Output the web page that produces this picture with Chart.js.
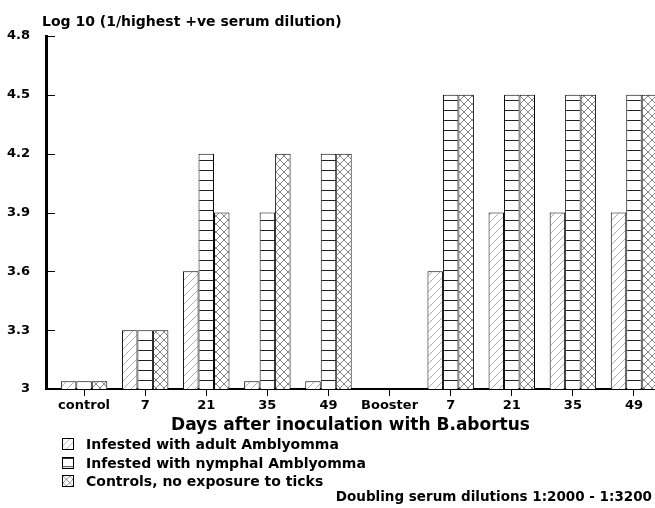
<!DOCTYPE html>
<html>
<head>
<meta charset="utf-8">
<script src="https://cdn.jsdelivr.net/npm/chart.js@4.4.1/dist/chart.umd.min.js"></script>
<style>
  html, body { margin: 0; padding: 0; background: #fff; overflow: hidden; }
  #wrap { position: relative; width: 655px; height: 508px; }
  #legend { position: absolute; left: 62px; top: 435px; font: bold 14px "DejaVu Sans", sans-serif; color: #000; }
  .row { display: flex; align-items: center; height: 18.5px; }
  .row canvas { width: 12px; height: 12px; border: 1px solid #000; margin-right: 12px; box-sizing: border-box; }
  #note { position: absolute; right: 3px; top: 488px; font: bold 13.5px "DejaVu Sans", sans-serif; color: #000; }
</style>
</head>
<body>
<div id="wrap">
  <canvas id="chart" width="655" height="508"></canvas>
  <div id="legend"></div>
  <div id="note"></div>
</div>
<script>
// valores
const categories = ['control', '7', '21', '35', '49', 'Booster', '7', '21', '35', '49'];
const adult = [3.04, 3.3, 3.6, 3.04, 3.04, 3.004, 3.6, 3.9, 3.9, 3.9];
const nymphal = [3.04, 3.3, 4.2, 3.9, 4.2, 3.004, 4.5, 4.5, 4.5, 4.5];
const controls = [3.04, 3.3, 3.9, 4.2, 4.2, 3.004, 4.5, 4.5, 4.5, 4.5];
const seriesLabels = ['Infested with adult Amblyomma', 'Infested with nymphal Amblyomma', 'Controls, no exposure to ticks'];
const yTitle = 'Log 10 (1/highest +ve serum dilution)';
const xTitle = 'Days after inoculation with B.abortus';
const noteText = 'Doubling serum dilutions 1:2000 - 1:3200';

const FONT = '"DejaVu Sans", sans-serif';

// tramas de relleno
function makePattern(kind) {
    const c = document.createElement('canvas');
    const s = kind === 'lines' ? 10 : 8;
    c.width = s; c.height = s;
    const g = c.getContext('2d');
    g.fillStyle = '#fff';
    g.fillRect(0, 0, s, s);
    if (kind === 'diag') {
        g.strokeStyle = '#9a9a9a';
        g.lineWidth = 0.8;
        g.beginPath();
        g.moveTo(0, s); g.lineTo(s, 0);
        g.stroke();
    } else if (kind === 'lines') {
        g.strokeStyle = '#222';
        g.lineWidth = 1;
        g.beginPath();
        g.moveTo(0, 0.5); g.lineTo(s, 0.5);
        g.stroke();
    } else {
        g.strokeStyle = '#666';
        g.lineWidth = 0.8;
        g.beginPath();
        g.moveTo(0, s); g.lineTo(s, 0);
        g.moveTo(0, 0); g.lineTo(s, s);
        g.stroke();
    }
    return g.createPattern(c, 'repeat');
}

const patterns = [makePattern('diag'), makePattern('lines'), makePattern('cross')];
const toPoints = arr => arr.map((v, i) => ({ x: i, y: v }));

const extras = {
    id: 'extras',
    afterDraw(chart) {
        const ctx = chart.ctx;
        const area = chart.chartArea;
        const y = chart.scales.y;
        ctx.save();
        // marcas interiores del eje y
        ctx.strokeStyle = '#000';
        ctx.lineWidth = 1;
        y.ticks.forEach(t => {
            const py = Math.round(y.getPixelForValue(t.value)) + 0.5;
            ctx.beginPath();
            ctx.moveTo(area.left, py);
            ctx.lineTo(area.left + 9, py);
            ctx.stroke();
        });
        // titulo del eje y arriba
        ctx.fillStyle = '#000';
        ctx.font = 'bold 14px ' + FONT;
        ctx.textBaseline = 'middle';
        ctx.textAlign = 'left';
        ctx.fillText(yTitle, area.left - 4, 22);
        ctx.restore();
    }
};

const chart = new Chart(document.getElementById('chart'), {
    type: 'bar',
    data: {
        datasets: [adult, nymphal, controls].map((arr, i) => ({
            label: seriesLabels[i],
            data: toPoints(arr),
            backgroundColor: patterns[i],
            borderColor: '#000',
            borderWidth: 1,
            categoryPercentage: 0.76,
            barPercentage: 1
        }))
    },
    options: {
        responsive: false,
        animation: false,
        layout: { padding: { top: 36, right: 0, left: 0, bottom: 72 } },
        plugins: {
            legend: { display: false },
            tooltip: { enabled: false }
        },
        scales: {
            x: {
                type: 'linear',
                offset: false,
                min: -0.623,
                max: 9.344,
                afterBuildTicks: scale => {
                    scale.ticks = categories.map((_, i) => ({ value: i }));
                },
                afterFit: scale => { scale.height = 47; },
                grid: { offset: false, drawOnChartArea: false, drawTicks: true, tickLength: 7, color: '#000' },
                border: { display: true, color: '#000', width: 2 },
                ticks: {
                    padding: 2,
                    color: '#000',
                    autoSkip: false,
                    maxRotation: 0,
                    minRotation: 0,
                    font: { family: FONT, size: 13, weight: 'bold' },
                    callback: v => categories[v] ?? ''
                },
                title: {
                    display: true,
                    text: xTitle,
                    color: '#000',
                    padding: 0,
                    font: { family: FONT, size: 17, weight: 'bold' }
                }
            },
            y: {
                min: 3,
                max: 4.8,
                afterFit: scale => { scale.width = 46; },
                grid: { display: false },
                border: { display: true, color: '#000', width: 3 },
                ticks: {
                    stepSize: 0.3,
                    padding: 8,
                    color: '#000',
                    font: { family: FONT, size: 13, weight: 'bold' },
                    callback: v => String(Number(v.toFixed(1)))
                }
            }
        }
    },
    plugins: [extras]
});

// leyenda en html
const legend = document.getElementById('legend');
chart.data.datasets.forEach((ds, i) => {
    const row = document.createElement('div');
    row.className = 'row';
    const sw = document.createElement('canvas');
    sw.width = 12; sw.height = 12;
    const g = sw.getContext('2d');
    g.fillStyle = ds.backgroundColor;
    g.fillRect(0, 0, 12, 12);
    const txt = document.createElement('span');
    txt.textContent = ds.label;
    row.appendChild(sw);
    row.appendChild(txt);
    legend.appendChild(row);
});
document.getElementById('note').textContent = noteText;
</script>
</body>
</html>
